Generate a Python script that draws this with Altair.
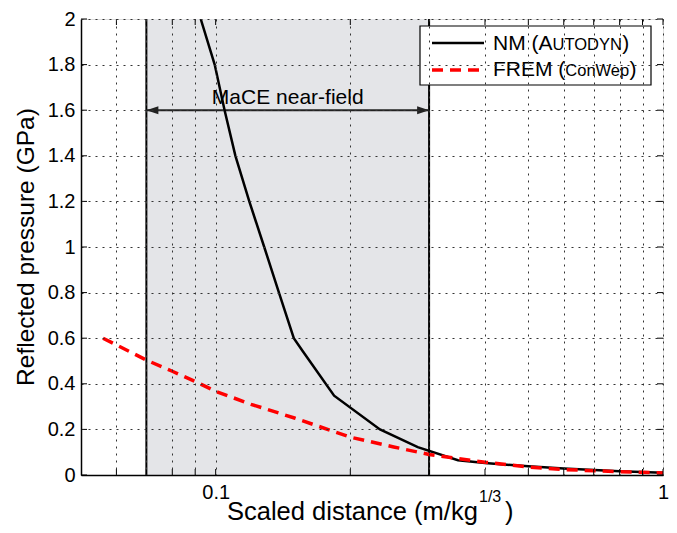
import altair as alt
import pandas as pd

# ---- data ----
nm_x = [0.0926, 0.0995, 0.1047, 0.1107, 0.1189, 0.1284, 0.1385, 0.1495, 0.1566,
        0.184, 0.233, 0.283, 0.348, 0.4, 0.5, 0.6, 0.8, 1.0]
nm_y = [2.0, 1.8, 1.6, 1.4, 1.2, 1.0, 0.8, 0.6, 0.543,
        0.348, 0.2, 0.122, 0.065, 0.053, 0.038, 0.028, 0.016, 0.01]

frem_x = [0.056, 0.07, 0.08, 0.09, 0.1, 0.12, 0.15, 0.2, 0.25, 0.3, 0.4, 0.5, 0.6, 0.8, 1.0]
frem_y = [0.60, 0.504, 0.455, 0.41, 0.367, 0.31, 0.25, 0.166, 0.123, 0.09, 0.056, 0.035, 0.024, 0.014, 0.009]

near_field = [0.07, 0.3]
near_field_label = "MaCE near-field"
arrow_level = 1.6
label_level = 1.627

x_ticks = [0.06, 0.07, 0.08, 0.09, 0.1, 0.2, 0.3, 0.4, 0.5, 0.6, 0.7, 0.8, 0.9, 1.0]
y_ticks = [0, 0.2, 0.4, 0.6, 0.8, 1.0, 1.2, 1.4, 1.6, 1.8, 2.0]

W, H = 582, 456
FONT = "Liberation Sans"

xs = alt.Scale(type="log", domain=[0.05, 1])
ys = alt.Scale(domain=[0, 2])

nm_df = pd.DataFrame({"x": nm_x, "y": nm_y})
frem_df = pd.DataFrame({"x": frem_x, "y": frem_y})
nf_df = pd.DataFrame({"x0": [near_field[0]], "x1": [near_field[1]]})
nf_lines = pd.DataFrame({"x": near_field})
arrow_df = pd.DataFrame({"x0": [near_field[0]], "x1": [near_field[1]], "y": [arrow_level]})
lbl_df = pd.DataFrame({"x": [(near_field[0] * near_field[1]) ** 0.5], "y": [label_level], "t": [near_field_label]})
xt_df = pd.DataFrame({"x": x_ticks})
yt_df = pd.DataFrame({"y": y_ticks})
one = pd.DataFrame({"a": [0]})

common_axis = dict(grid=True, gridDash=[2, 5], gridColor="#333", gridWidth=1,
                   tickSize=0, labelFontSize=20, labelFlush=False,
                   labelOverlap=False, domainColor="black", domainWidth=1.5,
                   labelColor="black", labelFont=FONT, title="", zindex=1)
x_axis = alt.Axis(values=x_ticks,
                  labelExpr="datum.value == 0.1 ? '0.1' : (datum.value == 1 ? '1' : '')",
                  labelPadding=7, **common_axis)
y_axis = alt.Axis(values=y_ticks, format="~g", labelPadding=6, **common_axis)


def X(field):
    return alt.X(field, type="quantitative", scale=xs, axis=x_axis)


def Y(field):
    return alt.Y(field, type="quantitative", scale=ys, axis=y_axis)


shade = alt.Chart(nf_df).mark_rect(color="#e4e5e8").encode(
    x=X("x0"), x2="x1:Q", y=alt.value(0), y2=alt.value(H))

yaxis_layer = alt.Chart(yt_df).mark_point(opacity=0).encode(
    y=Y("y"), x=alt.value(0))

bounds = alt.Chart(nf_lines).mark_rule(color="black", strokeWidth=2).encode(
    x=X("x"), y=alt.value(0), y2=alt.value(H))

arrow = alt.Chart(arrow_df).mark_rule(color="#222", strokeWidth=2).encode(
    x=X("x0"), x2="x1:Q", y=Y("y"))

head_l = alt.Chart(arrow_df).mark_point(filled=True, opacity=1, color="#222",
                                        shape="M0,0L1,-0.33L1,0.33Z", size=576).encode(
    x=X("x0"), y=Y("y"))
head_r = alt.Chart(arrow_df).mark_point(filled=True, opacity=1, color="#222",
                                        shape="M0,0L-1,-0.33L-1,0.33Z", size=576).encode(
    x=X("x1"), y=Y("y"))

label = alt.Chart(lbl_df).mark_text(font=FONT, fontSize=21, align="center",
                                    baseline="alphabetic", color="black").encode(
    x=X("x"), y=Y("y"), text="t:N")

nm_line = alt.Chart(nm_df).mark_line(color="black", strokeWidth=2.5, clip=True).encode(
    x=X("x"), y=Y("y"))
frem_line = alt.Chart(frem_df).mark_line(color="#ff0000", strokeWidth=3.5,
                                         strokeDash=[11, 7], clip=True).encode(
    x=X("x"), y=Y("y"))

# inward ticks
tick_b = alt.Chart(xt_df).mark_rule(color="black", strokeWidth=1).encode(
    x=X("x"), y=alt.value(H), y2=alt.value(H - 6))
tick_t = alt.Chart(xt_df).mark_rule(color="black", strokeWidth=1).encode(
    x=X("x"), y=alt.value(0), y2=alt.value(6))
tick_l = alt.Chart(yt_df).mark_rule(color="black", strokeWidth=1).encode(
    y=Y("y"), x=alt.value(0), x2=alt.value(6))
tick_r = alt.Chart(yt_df).mark_rule(color="black", strokeWidth=1).encode(
    y=Y("y"), x=alt.value(W), x2=alt.value(W - 6))

# legend
leg_box = alt.Chart(one).mark_rect(fill="white", stroke="black", strokeWidth=1.2).encode(
    x=alt.value(339), x2=alt.value(570), y=alt.value(7), y2=alt.value(66))
leg_nm = alt.Chart(one).mark_rule(color="black", strokeWidth=2.5).encode(
    x=alt.value(351), x2=alt.value(403), y=alt.value(24))
leg_frem = alt.Chart(one).mark_rule(color="#ff0000", strokeWidth=3.5, strokeDash=[11, 7]).encode(
    x=alt.value(351), x2=alt.value(403), y=alt.value(51))


def txt(s, x, y, size, angle=0, align="left"):
    return alt.Chart(one).mark_text(text=s, font=FONT, fontSize=size, align=align,
                                    baseline="alphabetic", color="black", angle=angle).encode(
        x=alt.value(x), y=alt.value(y))


legend_texts = [
    txt("NM (A", 412, 31.3, 21),
    txt("UTODYN", 471.5, 31.3, 16.5),
    txt(")", 541.2, 31.3, 21),
    txt("FREM (", 412, 56.6, 21),
    txt("ConWep", 484.3, 56.6, 16.5),
    txt(")", 548.5, 56.6, 21),
]

titles = [
    txt("Scaled distance (m/kg", 146, 501, 25.5),
    txt("1/3", 398, 483, 16),
    txt(")", 424, 501, 25.5),
    txt("Reflected pressure (GPa)", -47, 228, 24.5, angle=270, align="center"),
]

chart = alt.layer(
    shade, yaxis_layer, bounds, arrow, head_l, head_r, label,
    nm_line, frem_line, tick_b, tick_t, tick_l, tick_r,
    leg_box, leg_nm, leg_frem, *legend_texts, *titles
).properties(
    width=W, height=H,
    autosize=alt.AutoSizeParams(type="none"),
    padding={"left": 73, "top": 11, "right": 6, "bottom": 50},
).configure_view(stroke="black", strokeWidth=1.5).configure(font=FONT)

chart.save("out.html", embed_options={"renderer": "svg", "actions": False})
